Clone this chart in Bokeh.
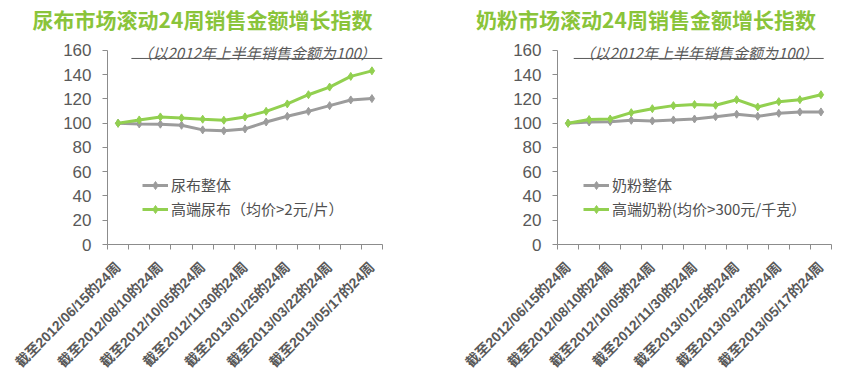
from bokeh.plotting import figure
from bokeh.layouts import row, column
from bokeh.models import Range1d, FixedTicker, Label, Legend, LegendItem
from bokeh.embed import file_html
from bokeh.resources import INLINE
import math

# ---- data ----
periods = ["截至2012/06/15的24周", "截至2012/07/13的24周", "截至2012/08/10的24周",
           "截至2012/09/07的24周", "截至2012/10/05的24周", "截至2012/11/02的24周",
           "截至2012/11/30的24周", "截至2012/12/28的24周", "截至2013/01/25的24周",
           "截至2013/02/22的24周", "截至2013/03/22的24周", "截至2013/04/19的24周",
           "截至2013/05/17的24周"]

diaper_total = [100, 99.4, 99.2, 98.3, 94.5, 93.7, 95.3, 101, 105.7, 109.8, 114.5, 119.2, 120.3]
diaper_premium = [100, 102.7, 105.2, 104.4, 103.3, 102.5, 105.2, 109.8, 115.9, 123.5, 129.8, 138.6, 143.2]

milk_total = [100, 101, 101.3, 102.4, 101.9, 102.7, 103.5, 105.4, 107.4, 105.7, 108.2, 109.3, 109.3]
milk_premium = [100, 103, 103.5, 108.7, 112, 114.5, 115.4, 114.8, 119.4, 113.4, 117.8, 119.4, 123.5]

y_ticks = [0, 20, 40, 60, 80, 100, 120, 140, 160]

titles = ["尿布市场滚动24周销售金额增长指数", "奶粉市场滚动24周销售金额增长指数"]
subtitle = "（以2012年上半年销售金额为100）"
legend_total = ["尿布整体", "奶粉整体"]
legend_premium = ["高端尿布（均价>2元/片）", "高端奶粉(均价>300元/千克）"]

GRAY = "#9C9C9C"
GREEN = "#92D050"
TITLE_GREEN = "#8AC43A"
TEXT = "#595959"
AXIS = "#8C8C8C"
CJK = "Noto Sans CJK SC"
LAT_CJK = "Liberation Sans, Noto Sans CJK SC"

TOP_H = 40
Y_MAX = 160
Y_END = Y_MAX * 205 / 195  # frame spans 205 px, 160 sits 10 px below its top


def make_panel(idx, total, premium, border_left, border_right, sub_x0, sub_x1, sub_xc, legend_x):
    n = len(periods)
    p = figure(width=421, height=378 - TOP_H, output_backend="svg", toolbar_location=None,
               x_range=Range1d(-0.5, n - 0.5), y_range=Range1d(0, Y_END),
               min_border_left=border_left, min_border_right=border_right,
               min_border_top=0, min_border_bottom=133)
    p.outline_line_color = None
    p.xgrid.visible = False
    p.ygrid.visible = False
    p.background_fill_color = "white"
    p.border_fill_color = "white"

    xs = list(range(n))
    lt = p.line(xs, total, line_color=GRAY, line_width=3)
    st = p.scatter(xs, total, marker="diamond", size=8, fill_color=GRAY, line_color=GRAY)
    lp = p.line(xs, premium, line_color=GREEN, line_width=3)
    sp = p.scatter(xs, premium, marker="diamond", size=8, fill_color=GREEN, line_color=GREEN)

    # x axis
    xa = p.xaxis[0]
    xa.ticker = FixedTicker(ticks=xs[::2], minor_ticks=[i - 0.5 for i in range(n + 1)])
    xa.major_label_overrides = {i: periods[i] for i in xs}
    xa.major_label_orientation = math.pi / 4
    xa.major_tick_out = 0
    xa.major_tick_in = 0
    xa.minor_tick_out = 5
    xa.minor_tick_in = 0
    xa.minor_tick_line_color = AXIS
    xa.axis_line_color = AXIS
    xa.major_label_text_font = LAT_CJK
    xa.major_label_text_font_size = "14px"
    xa.major_label_text_font_style = "bold"
    xa.major_label_text_color = TEXT
    xa.major_label_standoff = 15

    # y axis
    ya = p.yaxis[0]
    ya.ticker = FixedTicker(ticks=y_ticks)
    ya.bounds = (0, Y_MAX)
    ya.minor_tick_line_color = None
    ya.major_tick_out = 5
    ya.major_tick_in = 0
    ya.major_tick_line_color = AXIS
    ya.axis_line_color = AXIS
    ya.major_label_text_font = "Liberation Sans"
    ya.major_label_text_font_size = "17px"
    ya.major_label_text_color = TEXT
    ya.major_label_standoff = 11

    # subtitle with underline
    p.add_layout(Label(x=sub_xc, y=158.6, text=subtitle, text_font=CJK,
                       text_font_size="15px", text_font_style="italic",
                       text_color=TEXT, text_align="center", text_baseline="middle"))
    p.segment(x0=[sub_x0], y0=[153.4], x1=[sub_x1], y1=[153.4], line_color=TEXT, line_width=1)

    legend = Legend(items=[LegendItem(label=legend_total[idx], renderers=[lt, st]),
                           LegendItem(label=legend_premium[idx], renderers=[lp, sp])],
                    location=(legend_x, 25), orientation="vertical",
                    glyph_width=26, glyph_height=20, spacing=3, padding=0, margin=0,
                    label_standoff=3, label_text_font=CJK, label_text_font_size="15px",
                    label_text_color="#505050", border_line_color=None,
                    background_fill_alpha=0)
    p.add_layout(legend)
    return p


# title strip (pixel coordinates)
t = figure(width=842, height=TOP_H, output_backend="svg", toolbar_location=None,
           x_range=Range1d(0, 842), y_range=Range1d(0, TOP_H),
           x_axis_type=None, y_axis_type=None,
           min_border_left=0, min_border_right=0, min_border_top=0, min_border_bottom=0)
t.outline_line_color = None
t.xgrid.visible = False
t.ygrid.visible = False
for cx, txt in zip([202, 645.5], titles):
    t.add_layout(Label(x=cx, y=TOP_H - 18, text=txt, text_font=CJK,
                       text_font_size="21px", text_font_style="bold",
                       text_color=TITLE_GREEN, text_align="center", text_baseline="middle"))

p1 = make_panel(0, diaper_total, diaper_premium, 107, 39, 0.63, 12.5, 6.55, 35)
p2 = make_panel(1, milk_total, milk_premium, 136, 11, 0.27, 12.13, 6.2, 26)

layout = column(t, row(p1, p2))
open("out.html", "w").write(file_html(layout, INLINE))
